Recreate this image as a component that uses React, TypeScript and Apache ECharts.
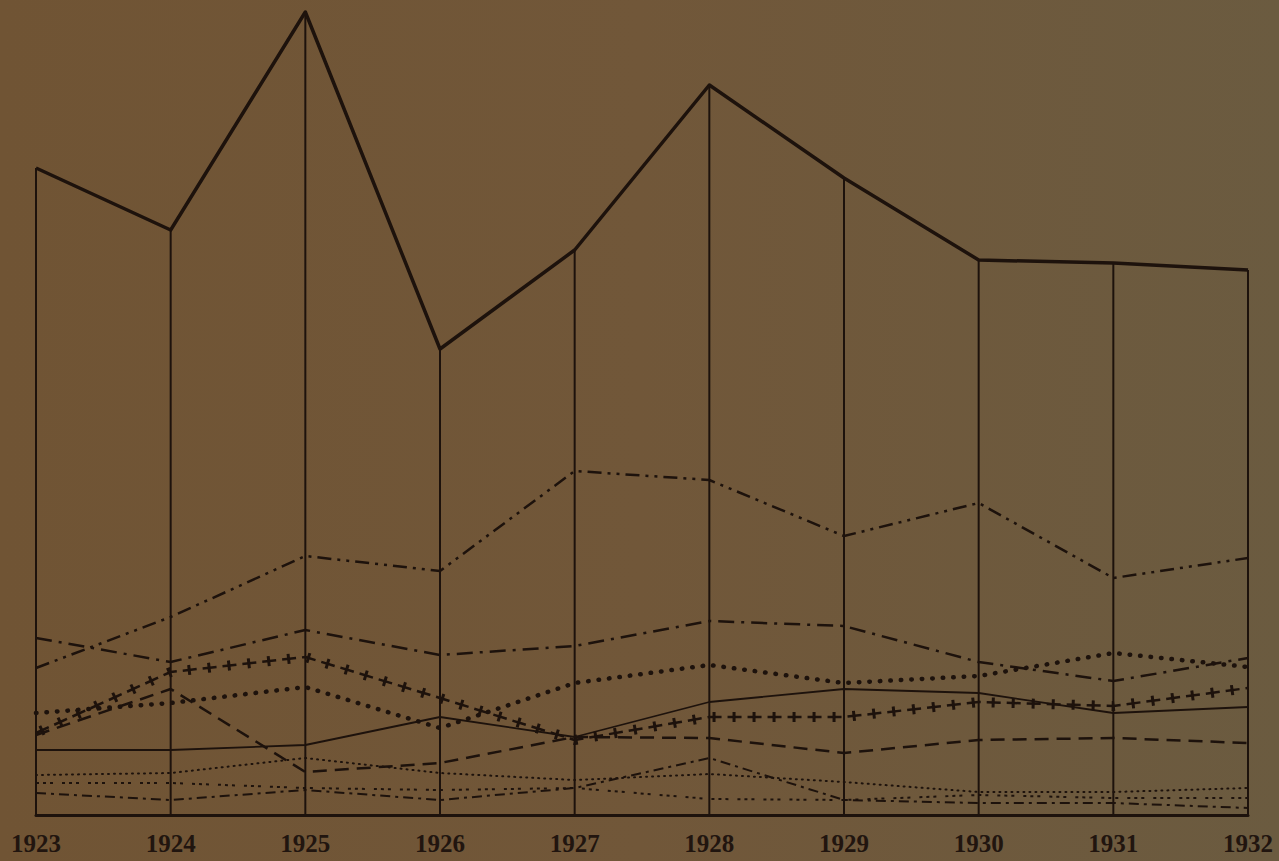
import React, { useEffect, useRef } from "react";
import * as echarts from "echarts";

const years = ["1923", "1924", "1925", "1926", "1927", "1928", "1929", "1930", "1931", "1932"];

const total = [647, 585, 803, 466, 565, 730, 637, 555, 552, 545];
const seriesA = [147, 198, 259, 244, 344, 335, 279, 312, 237, 257];
const seriesB = [177, 153, 185, 160, 169, 194, 189, 153, 134, 157];
const seriesC = [102, 112, 128, 87, 132, 150, 132, 139, 162, 148];
const seriesD = [82, 143, 158, 117, 75, 98, 98, 113, 109, 127];
const seriesE = [80, 126, 43, 52, 78, 77, 62, 75, 77, 72];
const seriesF = [65, 65, 70, 98, 78, 113, 126, 122, 102, 108];
const seriesH = [40, 42, 57, 42, 35, 41, 33, 23, 23, 27];
const seriesI = [32, 32, 27, 25, 27, 16, 15, 20, 17, 17];
const seriesG = [22, 15, 25, 15, 27, 57, 15, 12, 12, 7];

const INK = "#1d120c";

function lineSeries(name: string, data: number[], width: number, type: any, extra: any = {}) {
  return {
    name,
    type: "line",
    data,
    symbol: "none",
    silent: true,
    z: 3,
    lineStyle: { color: INK, width, type, cap: "butt", join: "round", ...extra },
  };
}

export default function App() {
  const ref = useRef<HTMLDivElement>(null);
  useEffect(() => {
    if (!ref.current) return;
    const chart = echarts.init(ref.current, null, { renderer: "svg" });
    chart.setOption({
      animation: false,
      backgroundColor: {
        type: "linear",
        x: 0,
        y: 0,
        x2: 1,
        y2: 0,
        colorStops: [
          { offset: 0, color: "#705434" },
          { offset: 0.5, color: "#715739" },
          { offset: 1, color: "#6b5b40" },
        ],
      },
      grid: { left: 36, right: 31, top: 10, bottom: 46 },
      xAxis: {
        type: "category",
        data: years,
        boundaryGap: false,
        axisLine: { show: true, lineStyle: { color: INK, width: 3 } },
        axisTick: { show: false },
        splitLine: { show: false },
        axisLabel: {
          color: "#21150f",
          fontFamily: "Liberation Serif",
          fontSize: 25,
          fontWeight: "bold",
          margin: 16,
          interval: 0,
        },
      },
      yAxis: {
        type: "value",
        min: 0,
        max: 805,
        show: false,
        splitLine: { show: false },
      },
      series: [
        {
          type: "custom",
          silent: true,
          z: 2,
          data: total.map((v, i) => [i, v]),
          renderItem: (params: any, api: any) => {
            const top = api.coord([api.value(0), api.value(1)]);
            const bot = api.coord([api.value(0), 0]);
            return {
              type: "line",
              shape: { x1: top[0], y1: top[1], x2: bot[0], y2: bot[1] },
              style: { stroke: INK, lineWidth: 2 },
            };
          },
        },
        lineSeries("Total", total, 3.5, "solid"),
        lineSeries("A", seriesA, 2.5, [14, 6, 3, 6, 3, 6]),
        lineSeries("B", seriesB, 2.5, [16, 7, 3, 7]),
        lineSeries("C", seriesC, 4.5, [0.5, 10], { cap: "round" }),
        lineSeries("D", seriesD, 2.5, [14, 6]),
        lineSeries("D crosses", seriesD, 10, [3, 17], { dashOffset: -5.5 }),
        lineSeries("E", seriesE, 2.5, [14, 8]),
        lineSeries("F", seriesF, 1.8, "solid"),
        lineSeries("H", seriesH, 2, [1, 5], { cap: "round" }),
        lineSeries("I", seriesI, 2, [3, 4, 3, 4, 3, 9]),
        lineSeries("G", seriesG, 2, [10, 5, 3, 5]),
      ],
    });
    return () => chart.dispose();
  }, []);
  return (
    <div
      ref={ref}
      style={{ position: "fixed", left: 0, top: 0, width: 1279, height: 861 }}
    />
  );
}
